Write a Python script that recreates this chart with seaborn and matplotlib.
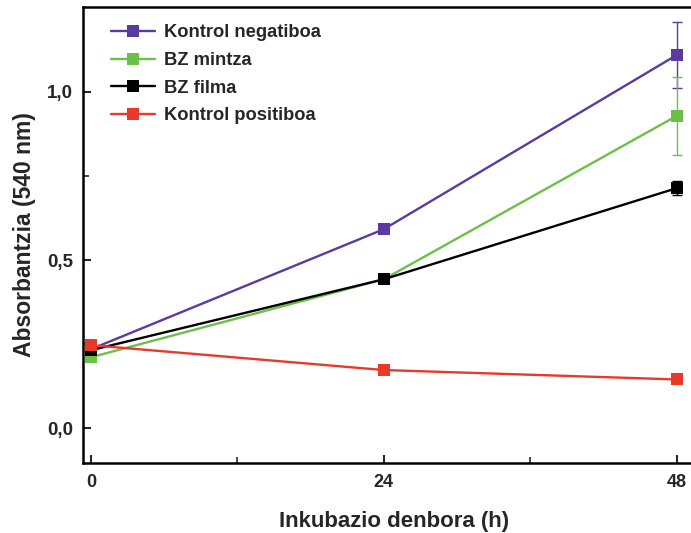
import matplotlib
matplotlib.use("Agg")
import matplotlib.pyplot as plt
import seaborn as sns
import pandas as pd
import numpy as np
from matplotlib.ticker import FixedLocator

hours = [0, 24, 48]
series_names = ["Kontrol negatiboa", "BZ mintza", "BZ filma", "Kontrol positiboa"]
neg = [0.235, 0.592, 1.110]
mintza = [0.211, 0.443, 0.929]
filma = [0.232, 0.443, 0.714]
pos = [0.247, 0.173, 0.145]
neg_err = [0.0, 0.0, 0.097]
mintza_err = [0.0, 0.0, 0.116]
filma_err = [0.0, 0.0, 0.020]
pos_err = [0.0, 0.0, 0.0]
colors = ["#5a3aa0", "#6cc04a", "#000000", "#e8392a"]

values = [neg, mintza, filma, pos]
errs = [neg_err, mintza_err, filma_err, pos_err]

rows = []
for name, v in zip(series_names, values):
    for h, y in zip(hours, v):
        rows.append({"h": h, "val": y, "series": name})
df = pd.DataFrame(rows)

sns.set_style("white")
plt.rcParams["font.family"] = ["Liberation Sans", "DejaVu Sans"]

fig = plt.figure(figsize=(6.91, 5.33), dpi=100)
ax = fig.add_axes([0.120, 0.131, 0.90, 0.856])

palette = dict(zip(series_names, colors))
for name, v, e, c in zip(series_names, values, errs, colors):
    ax.errorbar(hours, v, yerr=e, fmt="none", ecolor=c, elinewidth=1.0,
                capsize=3.5, capthick=1.0, zorder=2)

sns.lineplot(data=df, x="h", y="val", hue="series", palette=palette,
             marker="s", markersize=8, markeredgewidth=0, linewidth=1.7,
             ax=ax, zorder=3, hue_order=series_names)

ax.set_xlim(-0.66, 50.3)
ax.set_ylim(-0.104, 1.253)
ax.xaxis.set_major_locator(FixedLocator([0, 24, 48]))
ax.xaxis.set_minor_locator(FixedLocator([12, 36]))
ax.yaxis.set_major_locator(FixedLocator([0.0, 0.5, 1.0]))
ax.yaxis.set_minor_locator(FixedLocator([0.25, 0.75]))
ax.set_xticklabels(["0", "24", "48"])
ax.set_yticklabels(["0,0", "0,5", "1,0"])
ax.tick_params(axis="both", which="major", direction="in", length=6, width=1.5)
ax.tick_params(axis="both", which="minor", direction="in", length=4, width=1.2)
ax.tick_params(axis="both", which="both", bottom=True, left=True, top=False, right=False)
for lbl in ax.get_yticklabels():
    lbl.set_fontweight("bold")
    lbl.set_fontsize(13.5)
for lbl in ax.get_xticklabels():
    lbl.set_fontweight("bold")
    lbl.set_fontsize(13)
ax.tick_params(axis="x", pad=8)
ax.tick_params(axis="y", pad=7)

for s in ["left", "bottom", "top"]:
    ax.spines[s].set_linewidth(1.8)
    ax.spines[s].set_color("black")
ax.spines["right"].set_visible(False)

ax.set_xlabel("Inkubazio denbora (h)", fontsize=16, fontweight="bold", labelpad=14)
ax.set_ylabel("Absorbantzia (540 nm)", fontsize=16.5, fontweight="bold", labelpad=8)

leg = ax.legend(loc="upper left", bbox_to_anchor=(0.025, 0.99), frameon=False,
                fontsize=13.2, handlelength=2.4, handletextpad=0.5,
                labelspacing=0.58, borderaxespad=0.3)
for t in leg.get_texts():
    t.set_fontweight("bold")

fig.savefig("out.png", dpi=100)
